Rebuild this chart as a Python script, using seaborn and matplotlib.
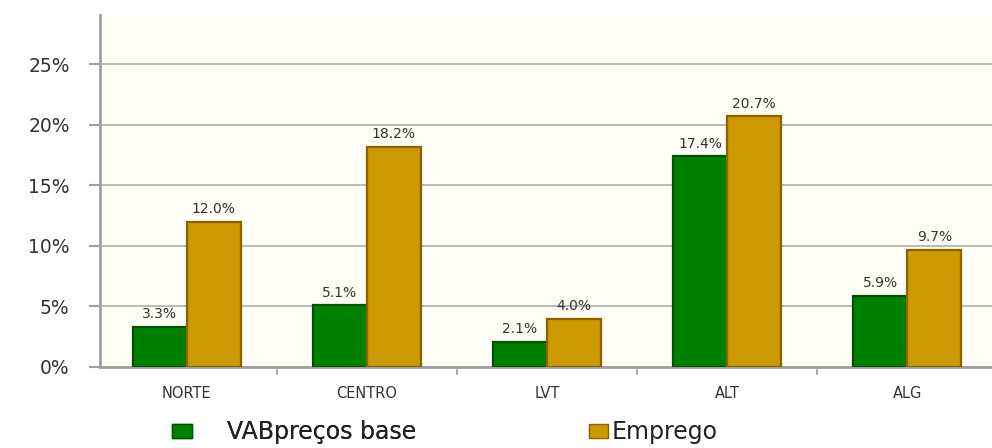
import matplotlib
matplotlib.use("Agg")
import matplotlib.pyplot as plt
import numpy as np
import pandas as pd
import seaborn as sns
from matplotlib.patches import Patch
from matplotlib.ticker import FixedLocator, FuncFormatter

# data
regioes = ["NORTE", "CENTRO", "LVT", "ALT", "ALG"]
vab_precos_base = [3.3, 5.1, 2.1, 17.4, 5.9]
emprego = [12.0, 18.2, 4.0, 20.7, 9.7]
series = ["VABpreços base", "Emprego"]
y_ticks = [0, 5, 10, 15, 20, 25]

fill_colors = ["#008000", "#cc9900"]
edge_colors = ["#005200", "#8a6200"]

df = pd.DataFrame({
    "regiao": regioes * 2,
    "serie": [series[0]] * len(regioes) + [series[1]] * len(regioes),
    "valor": vab_precos_base + emprego,
})

sns.set_theme(style="white")
plt.rcParams["font.family"] = ["DejaVu Sans"]

fig = plt.figure(figsize=(9.92, 4.48), dpi=100)
ax = fig.add_axes([0.101, 0.181, 0.899, 0.786])
ax.set_facecolor("#fefef6")

sns.barplot(
    data=df, x="regiao", y="valor", hue="serie", order=regioes, hue_order=series,
    palette=fill_colors, width=0.6, ax=ax, legend=False, saturation=1,
)

for container, edge in zip(ax.containers, edge_colors):
    for bar in container:
        bar.set_edgecolor(edge)
        bar.set_linewidth(1.6)
        bar.set_zorder(3)
    vals = [b.get_height() for b in container]
    ax.bar_label(container, labels=[f"{v:.1f}%" for v in vals], padding=4,
                 fontsize=10, color="#333333", zorder=4)

ax.set_ylim(0, 29.1)
ax.set_xlim(-0.48, 4.47)
ax.yaxis.set_major_locator(FixedLocator(y_ticks))
ax.yaxis.set_major_formatter(FuncFormatter(lambda v, _: f"{v:.0f}%"))
ax.grid(axis="y", color="#b4b4b4", lw=1.3, zorder=0)
ax.set_axisbelow(True)
ax.set_xlabel("")
ax.set_ylabel("")

for side in ("top", "right"):
    ax.spines[side].set_visible(False)
for side in ("left", "bottom"):
    ax.spines[side].set_color("#a0a0a0")
    ax.spines[side].set_linewidth(2)

ax.tick_params(axis="y", left=True, length=8, width=1.5, color="#a0a0a0",
               pad=14, labelsize=13.5, labelcolor="#333333")
ax.tick_params(axis="x", which="major", bottom=False, pad=8, labelsize=10.5,
               labelcolor="#333333")
ax.set_xticks(np.arange(len(regioes) - 1) + 0.5, minor=True)
ax.tick_params(axis="x", which="minor", bottom=True, length=6, width=1.2,
               color="#a0a0a0")

leg1 = fig.legend(
    handles=[Patch(facecolor=fill_colors[0], edgecolor=edge_colors[0], label=series[0])],
    loc="center left", bbox_to_anchor=(0.173, 0.035), frameon=False,
    fontsize=17, handlelength=0.85, handleheight=0.55, handletextpad=1.5,
    labelcolor="#222222", borderpad=0, borderaxespad=0,
)
fig.add_artist(leg1)
fig.legend(
    handles=[Patch(facecolor=fill_colors[1], edgecolor=edge_colors[1], label=series[1])],
    loc="center left", bbox_to_anchor=(0.594, 0.035), frameon=False,
    fontsize=17, handlelength=0.78, handleheight=0.55, handletextpad=0.17,
    labelcolor="#222222", borderpad=0, borderaxespad=0,
)

fig.savefig("out.png", dpi=100, facecolor="white")
